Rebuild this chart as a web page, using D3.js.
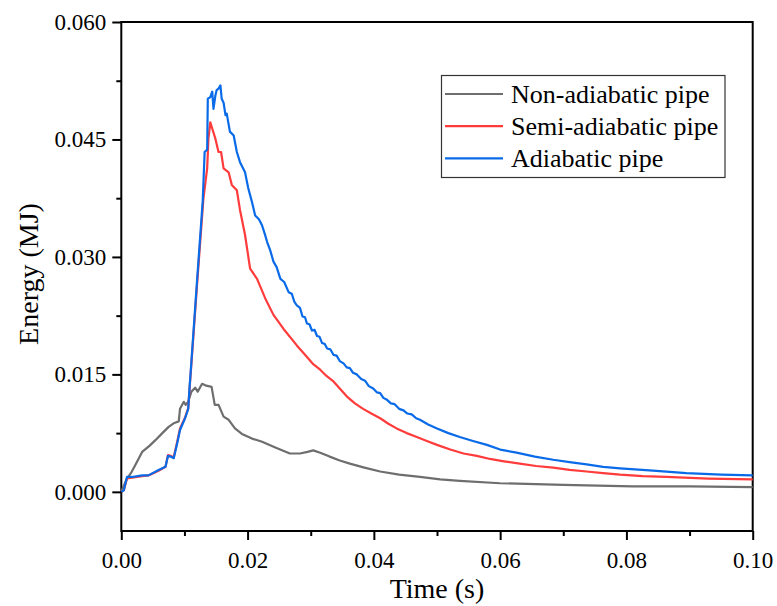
<!DOCTYPE html>
<html>
<head>
<meta charset="utf-8">
<script src="https://cdn.jsdelivr.net/npm/d3@7/dist/d3.min.js"></script>
<style>
  body { margin: 0; background: #fff; }
  text { font-family: "Liberation Serif", "Times New Roman", serif; fill: #000; }
</style>
</head>
<body>
<div id="container"></div>
<script>
var width = 777;
var height = 606;

// [time (s), energy (MJ)]
var nonAdiabatic = [
  [0, 0], [0.0004, 0.0008], [0.0009, 0.0017], [0.0016, 0.0025], [0.0022, 0.0034],
  [0.0033, 0.0051], [0.0045, 0.0059], [0.0054, 0.0066], [0.0065, 0.0075], [0.0075, 0.0083],
  [0.0084, 0.0088], [0.0091, 0.0090], [0.0093, 0.0106], [0.0099, 0.0115], [0.0102, 0.0111],
  [0.0106, 0.0115], [0.0111, 0.0128], [0.0117, 0.0133], [0.0121, 0.0128], [0.0128, 0.0138],
  [0.0133, 0.0136], [0.0138, 0.0135], [0.0143, 0.0134], [0.0148, 0.0111], [0.0154, 0.0111],
  [0.0162, 0.0096], [0.0170, 0.0092], [0.0180, 0.0081], [0.0191, 0.0074], [0.0207, 0.0068],
  [0.0223, 0.0064], [0.0243, 0.0057], [0.0267, 0.0049], [0.0283, 0.0049], [0.0295, 0.0051],
  [0.0304, 0.0053], [0.0315, 0.0050], [0.0330, 0.0045], [0.0346, 0.0040], [0.0362, 0.0036],
  [0.0385, 0.0031], [0.0410, 0.0026], [0.0440, 0.0022], [0.0473, 0.0019], [0.0505, 0.0016],
  [0.0536, 0.0014], [0.0600, 0.0011], [0.0700, 0.0009], [0.0810, 0.0007], [0.0900, 0.0007],
  [0.1000, 0.0006]
];

var semiAdiabatic = [
  [0, 0], [0.0004, 0.0002], [0.0009, 0.0017], [0.0017, 0.0018], [0.0033, 0.0020],
  [0.0043, 0.0021], [0.0059, 0.0027], [0.0070, 0.0032], [0.0074, 0.0047], [0.0078, 0.0046],
  [0.0083, 0.0044], [0.0088, 0.0062], [0.0093, 0.0081], [0.0101, 0.0095], [0.0106, 0.0107],
  [0.0108, 0.0130], [0.0111, 0.0163], [0.0120, 0.0265], [0.0130, 0.0374], [0.0136, 0.0413],
  [0.0138, 0.0451], [0.0141, 0.0472], [0.0144, 0.0464], [0.0149, 0.0451], [0.0154, 0.0434],
  [0.0158, 0.0434], [0.0162, 0.0413], [0.0170, 0.0408], [0.0175, 0.0392], [0.0183, 0.0385],
  [0.0188, 0.0360], [0.0196, 0.0328], [0.0204, 0.0285], [0.0215, 0.0272], [0.0228, 0.0247],
  [0.0241, 0.0226], [0.0257, 0.0208], [0.0278, 0.0187], [0.0292, 0.0174], [0.0304, 0.0163],
  [0.0315, 0.0156], [0.0325, 0.0148], [0.0336, 0.0141], [0.0346, 0.0132], [0.0357, 0.0122],
  [0.0370, 0.0113], [0.0383, 0.0106], [0.0396, 0.0100], [0.0410, 0.0094], [0.0423, 0.0087],
  [0.0436, 0.0081], [0.0452, 0.0075], [0.0468, 0.0070], [0.0484, 0.0065], [0.0500, 0.0060],
  [0.0521, 0.0054], [0.0542, 0.0049], [0.0563, 0.0046], [0.0584, 0.0042], [0.0606, 0.0039],
  [0.0631, 0.0036], [0.0657, 0.0033], [0.0684, 0.0031], [0.0710, 0.0028], [0.0737, 0.0026],
  [0.0763, 0.0024], [0.0790, 0.0022], [0.0826, 0.0020], [0.0863, 0.0019], [0.0930, 0.0017],
  [0.1000, 0.0016]
];

var adiabatic = [
  [0, 0], [0.0004, 0.0002], [0.0009, 0.0019], [0.0017, 0.0019], [0.0033, 0.0021],
  [0.0043, 0.0021], [0.0059, 0.0028], [0.0070, 0.0032], [0.0074, 0.0046], [0.0078, 0.0045],
  [0.0083, 0.0043], [0.0088, 0.0060], [0.0093, 0.0079], [0.0101, 0.0094], [0.0106, 0.0106],
  [0.0108, 0.0132], [0.0111, 0.0166], [0.0120, 0.0270], [0.0129, 0.0372], [0.0132, 0.0434],
  [0.0136, 0.0437], [0.0137, 0.0502], [0.0141, 0.0504], [0.0144, 0.0511], [0.0146, 0.0489],
  [0.0149, 0.0506], [0.0151, 0.0513], [0.0154, 0.0515], [0.0157, 0.0519], [0.0159, 0.0502],
  [0.0162, 0.0497], [0.0165, 0.0481], [0.0167, 0.0483], [0.0172, 0.0460], [0.0178, 0.0455],
  [0.0183, 0.0434], [0.0188, 0.0421], [0.0196, 0.0408], [0.0201, 0.0388], [0.0207, 0.0370],
  [0.0212, 0.0353], [0.0218, 0.0348], [0.0223, 0.0340], [0.0227, 0.0330], [0.0231, 0.0319],
  [0.0236, 0.0308], [0.0241, 0.0294], [0.0246, 0.0287], [0.0252, 0.0272], [0.0258, 0.0268],
  [0.0265, 0.0255], [0.0270, 0.0253], [0.0274, 0.0243], [0.0278, 0.0238], [0.0283, 0.0235],
  [0.0287, 0.0224], [0.0291, 0.0223], [0.0294, 0.0215], [0.0298, 0.0214], [0.0302, 0.0206],
  [0.0306, 0.0207], [0.0310, 0.0199], [0.0314, 0.0198], [0.0318, 0.0190], [0.0322, 0.0189],
  [0.0326, 0.0183], [0.0331, 0.0182], [0.0336, 0.0175], [0.0341, 0.0174], [0.0346, 0.0167],
  [0.0352, 0.0164], [0.0357, 0.0159], [0.0362, 0.0158], [0.0367, 0.0152], [0.0373, 0.0150],
  [0.0380, 0.0144], [0.0386, 0.0142], [0.0392, 0.0135], [0.0399, 0.0132], [0.0405, 0.0127],
  [0.0410, 0.0126], [0.0415, 0.0120], [0.0420, 0.0118], [0.0427, 0.0113], [0.0433, 0.0112],
  [0.0440, 0.0106], [0.0447, 0.0104], [0.0453, 0.0100], [0.0460, 0.0099], [0.0467, 0.0094],
  [0.0473, 0.0092], [0.0486, 0.0086], [0.0500, 0.0081], [0.0518, 0.0075], [0.0536, 0.0070],
  [0.0557, 0.0065], [0.0579, 0.0060], [0.0600, 0.0054], [0.0626, 0.0050], [0.0655, 0.0045],
  [0.0684, 0.0041], [0.0710, 0.0038], [0.0737, 0.0035], [0.0763, 0.0032], [0.0790, 0.0030],
  [0.0842, 0.0027], [0.0895, 0.0024], [0.0950, 0.0022], [0.1000, 0.0021]
];

var seriesNames = ["Non-adiabatic pipe", "Semi-adiabatic pipe", "Adiabatic pipe"];
var seriesColors = ["#6e6e6e", "#ff3b3b", "#0a6be8"];
var seriesData = [nonAdiabatic, semiAdiabatic, adiabatic];

var xTicks = [0, 0.02, 0.04, 0.06, 0.08, 0.10];
var yTicks = [0, 0.015, 0.030, 0.045, 0.060];

var pLeft = 121.3, pRight = 752.7, pTop = 22, pBottom = 531;

var x = d3.scaleLinear().domain([0, 0.1]).range([pLeft, pRight]);
var y = d3.scaleLinear().domain([-0.005, 0.06]).range([pBottom, pTop]);

var svg = d3.select('div#container')
  .append('svg')
  .attr('width', width)
  .attr('height', height);

// frame
svg.append('rect')
  .attr('x', pLeft).attr('y', pTop)
  .attr('width', pRight - pLeft).attr('height', pBottom - pTop)
  .attr('fill', 'none')
  .attr('stroke', '#000')
  .attr('stroke-width', 2);

// lines
var line = d3.line()
  .x(function(d){ return x(d[0]); })
  .y(function(d){ return y(d[1]); });

svg.append('g')
  .selectAll('path')
  .data(seriesData)
  .enter()
  .append('path')
  .attr('d', line)
  .attr('fill', 'none')
  .attr('stroke', function(d, i){ return seriesColors[i]; })
  .attr('stroke-width', 2.2)
  .attr('stroke-linejoin', 'round');

// x axis
svg.append('g')
  .attr('transform', 'translate(0,' + pBottom + ')')
  .call(d3.axisBottom(x).tickValues(xTicks).tickSize(9).tickPadding(12)
    .tickFormat(d3.format('.2f')));
svg.append('g')
  .attr('transform', 'translate(0,' + pBottom + ')')
  .call(d3.axisBottom(x).tickValues([0.01, 0.03, 0.05, 0.07, 0.09]).tickSize(5).tickFormat(''));

// y axis
svg.append('g')
  .attr('transform', 'translate(' + pLeft + ',0)')
  .call(d3.axisLeft(y).tickValues(yTicks).tickSize(9).tickPadding(6)
    .tickFormat(d3.format('.3f')));
svg.append('g')
  .attr('transform', 'translate(' + pLeft + ',0)')
  .call(d3.axisLeft(y).tickValues([0.0075, 0.0225, 0.0375, 0.0525]).tickSize(5).tickFormat(''));

svg.selectAll('.domain').remove();
svg.selectAll('.tick line').attr('stroke', '#000').attr('stroke-width', 2);
svg.selectAll('.tick text')
  .style('font-family', '"Liberation Serif", serif')
  .style('font-size', '23px')
  .attr('fill', '#000');

// axis titles
svg.append('text')
  .attr('x', (pLeft + pRight) / 2)
  .attr('y', 598)
  .attr('text-anchor', 'middle')
  .style('font-size', '28px')
  .text('Time (s)');

svg.append('text')
  .attr('transform', 'translate(38,274) rotate(-90)')
  .attr('text-anchor', 'middle')
  .style('font-size', '28px')
  .text('Energy (MJ)');

// legend
var legend = svg.append('g');
legend.append('rect')
  .attr('x', 441.5).attr('y', 75.5)
  .attr('width', 283.5).attr('height', 102)
  .attr('fill', '#fff')
  .attr('stroke', '#333')
  .attr('stroke-width', 1.2);

var items = legend.selectAll('g.item')
  .data(seriesNames)
  .enter()
  .append('g')
  .attr('class', 'item')
  .attr('transform', function(d, i){ return 'translate(0,' + (94 + i * 32.2) + ')'; });

items.append('line')
  .attr('x1', 445).attr('x2', 503)
  .attr('stroke', function(d, i){ return seriesColors[i]; })
  .attr('stroke-width', 2.2);

items.append('text')
  .attr('x', 511)
  .attr('y', 9)
  .style('font-size', '26px')
  .text(function(d){ return d; });
</script>
</body>
</html>
